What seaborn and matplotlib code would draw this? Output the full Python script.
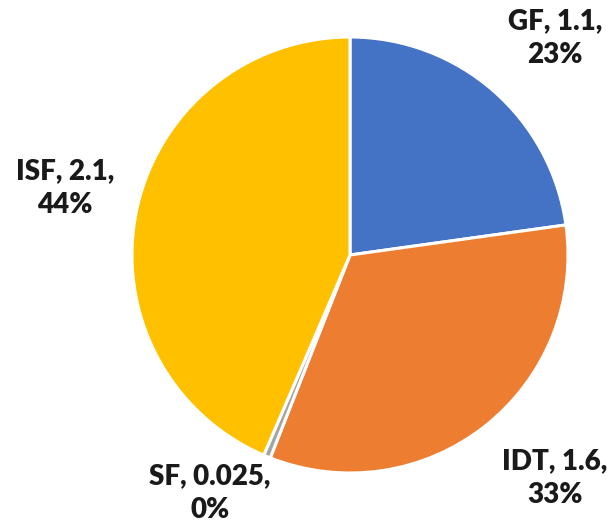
import matplotlib
matplotlib.use("Agg")
import matplotlib.pyplot as plt
import seaborn as sns

labels = ["GF", "IDT", "SF", "ISF"]
values = [1.1, 1.6, 0.025, 2.1]
percents = ["23%", "33%", "0%", "44%"]
colors = ["#4472C4", "#ED7D31", "#A5A5A5", "#FFC000"]

sns.set_theme(style="white")
plt.rcParams["font.family"] = ["Lato", "DejaVu Sans"]

fig = plt.figure(figsize=(6.15, 5.31), dpi=100)
ax = fig.add_axes([0, 0, 1, 1])

ax.pie(values, colors=colors, startangle=90, counterclock=False,
       radius=1.0, center=(0, 0),
       wedgeprops=dict(edgecolor="white", linewidth=2.2))

# label placement (data coords, pie radius = 1)
label_pos = [(0.94, 0.995), (0.94, -1.023), (-0.642, -1.092), (-1.307, 0.307)]
for name, v, p, (x, y) in zip(labels, values, percents, label_pos):
    ax.text(x, y, f"{name}, {v:g},\n{p}", ha="center", va="center",
            fontsize=20, fontweight="heavy", color="#1a1a1a", linespacing=1.4)

ax.set_xlim(-350 / 218, 265 / 218)
ax.set_ylim(-276 / 218, 255 / 218)
ax.set_aspect("equal")
ax.axis("off")

fig.savefig("out.png", dpi=100, facecolor="white")
